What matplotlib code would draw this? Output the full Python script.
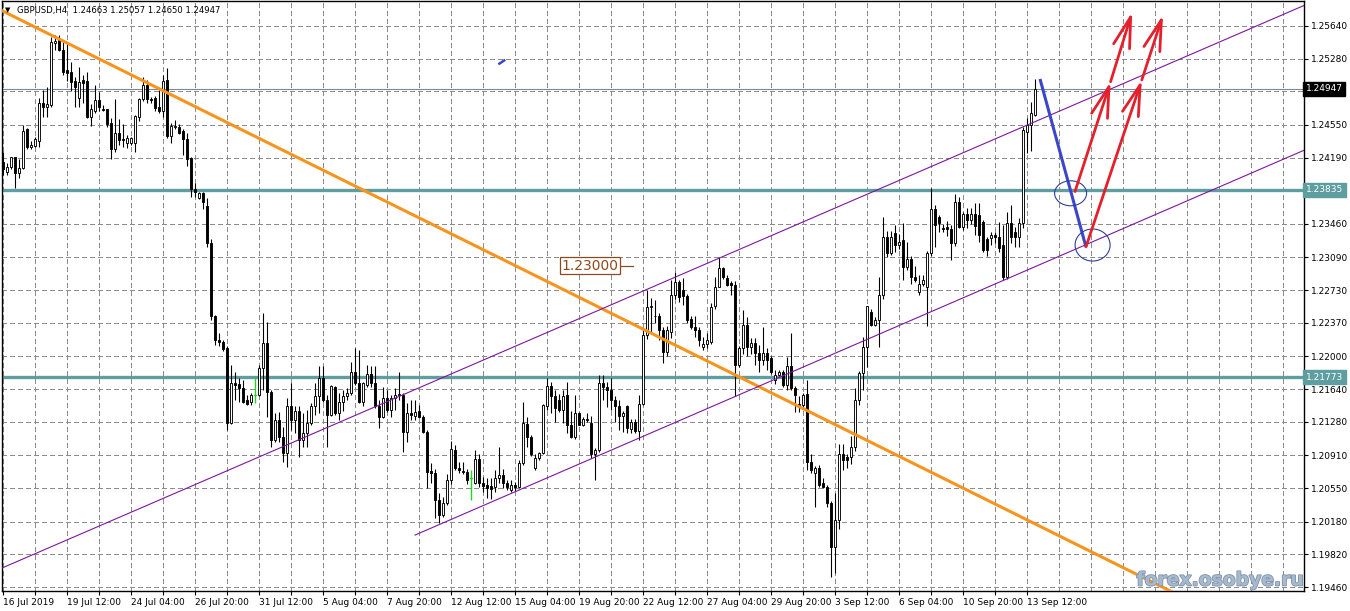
import matplotlib
matplotlib.use("Agg")
import matplotlib.pyplot as plt
import numpy as np
from matplotlib.patches import Rectangle, Ellipse
from matplotlib.collections import LineCollection
import matplotlib.patheffects as pe
import matplotlib.transforms as mtransforms

# ---------------- data (GBPUSD H4, 16 Jul 2019 20:00 .. 13 Sep 2019 20:00) ----------------
header_text = "GBPUSD,H4  1.24663 1.25057 1.24650 1.24947"

opens = [
    1.2414, 1.2403, 1.2409, 1.2420, 1.2402, 1.2408, 1.2450, 1.2431, 1.2432, 1.2437,
    1.2479, 1.2475, 1.2477, 1.2545, 1.2548, 1.2538, 1.2515, 1.2513, 1.2503, 1.2485,
    1.2504, 1.2503, 1.2464, 1.2470, 1.2482, 1.2473, 1.2472, 1.2457, 1.2429, 1.2446,
    1.2440, 1.2435, 1.2435, 1.2435, 1.2464, 1.2484, 1.2499, 1.2484, 1.2485, 1.2475,
    1.2470, 1.2504, 1.2443, 1.2453, 1.2453, 1.2448, 1.2440, 1.2419, 1.2384, 1.2375,
    1.2380, 1.2366, 1.2325, 1.2244, 1.2218, 1.2216, 1.2209, 1.2127, 1.2171, 1.2170,
    1.2165, 1.2152, 1.2150, 1.2158, 1.2158, 1.2187, 1.2215, 1.2161, 1.2108, 1.2130,
    1.2111, 1.2094, 1.2145, 1.2130, 1.2140, 1.2108, 1.2116, 1.2127, 1.2145, 1.2156,
    1.2176, 1.2152, 1.2136, 1.2166, 1.2138, 1.2150, 1.2156, 1.2160, 1.2183, 1.2171,
    1.2150, 1.2168, 1.2181, 1.2171, 1.2145, 1.2133, 1.2154, 1.2141, 1.2154, 1.2158,
    1.2158, 1.2117, 1.2138, 1.2134, 1.2140, 1.2133, 1.2117, 1.2074, 1.2072, 1.2042,
    1.2025, 1.2039, 1.2064, 1.2097, 1.2077, 1.2074, 1.2073, 1.2066, 1.2061, 1.2087,
    1.2061, 1.2058, 1.2057, 1.2056, 1.2066, 1.2069, 1.2061, 1.2053, 1.2058, 1.2056,
    1.2083, 1.2126, 1.2111, 1.2077, 1.2088, 1.2094, 1.2145, 1.2167, 1.2156, 1.2152,
    1.2141, 1.2158, 1.2125, 1.2111, 1.2138, 1.2125, 1.2131, 1.2127, 1.2092, 1.2097,
    1.2171, 1.2166, 1.2163, 1.2152, 1.2145, 1.2134, 1.2145, 1.2120, 1.2128, 1.2118,
    1.2148, 1.2224, 1.2254, 1.2245, 1.2245, 1.2229, 1.2205, 1.2227, 1.2268, 1.2282,
    1.2273, 1.2266, 1.2241, 1.2232, 1.2229, 1.2210, 1.2214, 1.2216, 1.2255, 1.2277,
    1.2297, 1.2286, 1.2281, 1.2279, 1.2191, 1.2209, 1.2235, 1.2210, 1.2215, 1.2204,
    1.2196, 1.2204, 1.2198, 1.2174, 1.2180, 1.2183, 1.2169, 1.2189, 1.2165, 1.2148,
    1.2146, 1.2159, 1.2084, 1.2072, 1.2077, 1.2061, 1.2056, 1.2039, 1.1990, 1.2020,
    1.2092, 1.2089, 1.2089, 1.2100, 1.2152, 1.2182, 1.2210, 1.2249, 1.2235, 1.2240,
    1.2268, 1.2331, 1.2314, 1.2336, 1.2323, 1.2328, 1.2298, 1.2307, 1.2288, 1.2271,
    1.2280, 1.2277, 1.2314, 1.2362, 1.2354, 1.2341, 1.2343, 1.2340, 1.2325, 1.2370,
    1.2343, 1.2357, 1.2350, 1.2357, 1.2356, 1.2348, 1.2329, 1.2330, 1.2334, 1.2332,
    1.2323, 1.2288, 1.2347, 1.2337, 1.2331, 1.2347, 1.2447, 1.2455, 1.24663,
]
highs = [
    1.2425, 1.2413, 1.2420, 1.2420, 1.2417, 1.2455, 1.2452, 1.2437, 1.2442, 1.2485,
    1.2494, 1.2497, 1.2552, 1.2554, 1.2554, 1.2546, 1.2545, 1.2524, 1.2508, 1.2519,
    1.2510, 1.2513, 1.2478, 1.2499, 1.2491, 1.2477, 1.2472, 1.2463, 1.2483, 1.2461,
    1.2456, 1.2444, 1.2442, 1.2466, 1.2485, 1.2508, 1.2505, 1.2486, 1.2487, 1.2493,
    1.2510, 1.2518, 1.2457, 1.2460, 1.2456, 1.2450, 1.2446, 1.2420, 1.2391, 1.2381,
    1.2381, 1.2375, 1.2329, 1.2246, 1.2226, 1.2218, 1.2211, 1.2191, 1.2183, 1.2176,
    1.2174, 1.2158, 1.2160, 1.2176, 1.2190, 1.2248, 1.2238, 1.2163, 1.2138, 1.2139,
    1.2122, 1.2154, 1.2171, 1.2145, 1.2145, 1.2138, 1.2141, 1.2149, 1.2171, 1.2189,
    1.2189, 1.2157, 1.2169, 1.2167, 1.2160, 1.2163, 1.2165, 1.2194, 1.2209, 1.2207,
    1.2172, 1.2191, 1.2189, 1.2189, 1.2152, 1.2166, 1.2163, 1.2158, 1.2165, 1.2183,
    1.2160, 1.2149, 1.2152, 1.2152, 1.2147, 1.2136, 1.2119, 1.2083, 1.2076, 1.2049,
    1.2045, 1.2070, 1.2107, 1.2102, 1.2084, 1.2084, 1.2076, 1.2075, 1.2097, 1.2092,
    1.2067, 1.2066, 1.2066, 1.2075, 1.2100, 1.2076, 1.2064, 1.2064, 1.2062, 1.2086,
    1.2150, 1.2133, 1.2113, 1.2093, 1.2095, 1.2148, 1.2176, 1.2172, 1.2163, 1.2159,
    1.2163, 1.2172, 1.2140, 1.2158, 1.2139, 1.2133, 1.2138, 1.2134, 1.2099, 1.2179,
    1.2180, 1.2172, 1.2176, 1.2156, 1.2152, 1.2140, 1.2147, 1.2131, 1.2131, 1.2158,
    1.2229, 1.2273, 1.2264, 1.2262, 1.2248, 1.2232, 1.2233, 1.2284, 1.2293, 1.2284,
    1.2286, 1.2269, 1.2244, 1.2244, 1.2232, 1.2221, 1.2226, 1.2259, 1.2288, 1.2309,
    1.2299, 1.2290, 1.2283, 1.2283, 1.2212, 1.2251, 1.2243, 1.2220, 1.2220, 1.2213,
    1.2232, 1.2209, 1.2200, 1.2185, 1.2185, 1.2185, 1.2199, 1.2226, 1.2167, 1.2156,
    1.2160, 1.2174, 1.2093, 1.2079, 1.2080, 1.2066, 1.2058, 1.2041, 1.2050, 1.2103,
    1.2103, 1.2093, 1.2112, 1.2165, 1.2184, 1.2221, 1.2256, 1.2252, 1.2243, 1.2288,
    1.2354, 1.2338, 1.2338, 1.2345, 1.2335, 1.2347, 1.2326, 1.2311, 1.2300, 1.2290,
    1.2290, 1.2316, 1.2386, 1.2367, 1.2356, 1.2346, 1.2349, 1.2345, 1.2379, 1.2376,
    1.2359, 1.2364, 1.2364, 1.2369, 1.2369, 1.2350, 1.2331, 1.2337, 1.2337, 1.2348,
    1.2345, 1.2359, 1.2367, 1.2343, 1.2352, 1.2453, 1.2463, 1.2480, 1.25057,
]
lows = [
    1.2400, 1.2400, 1.2406, 1.2386, 1.2397, 1.2406, 1.2428, 1.2428, 1.2431, 1.2431,
    1.2464, 1.2464, 1.2475, 1.2538, 1.2536, 1.2510, 1.2503, 1.2492, 1.2475, 1.2475,
    1.2479, 1.2463, 1.2454, 1.2468, 1.2470, 1.2470, 1.2453, 1.2417, 1.2425, 1.2433,
    1.2431, 1.2430, 1.2433, 1.2425, 1.2459, 1.2481, 1.2479, 1.2479, 1.2470, 1.2468,
    1.2464, 1.2441, 1.2435, 1.2450, 1.2445, 1.2422, 1.2410, 1.2376, 1.2376, 1.2373,
    1.2362, 1.2321, 1.2240, 1.2213, 1.2211, 1.2206, 1.2119, 1.2126, 1.2152, 1.2150,
    1.2149, 1.2146, 1.2147, 1.2149, 1.2156, 1.2163, 1.2133, 1.2100, 1.2106, 1.2106,
    1.2084, 1.2078, 1.2119, 1.2116, 1.2089, 1.2100, 1.2100, 1.2125, 1.2136, 1.2138,
    1.2150, 1.2100, 1.2134, 1.2136, 1.2130, 1.2140, 1.2152, 1.2158, 1.2169, 1.2149,
    1.2145, 1.2166, 1.2166, 1.2143, 1.2121, 1.2132, 1.2139, 1.2133, 1.2141, 1.2152,
    1.2095, 1.2106, 1.2130, 1.2130, 1.2132, 1.2116, 1.2055, 1.2061, 1.2022, 1.2017,
    1.2023, 1.2036, 1.2060, 1.2075, 1.2072, 1.2071, 1.2060, 1.2042, 1.2059, 1.2056,
    1.2051, 1.2044, 1.2043, 1.2051, 1.2061, 1.2055, 1.2053, 1.2051, 1.2052, 1.2055,
    1.2080, 1.2100, 1.2090, 1.2075, 1.2086, 1.2092, 1.2141, 1.2138, 1.2128, 1.2139,
    1.2127, 1.2116, 1.2110, 1.2109, 1.2124, 1.2123, 1.2128, 1.2088, 1.2064, 1.2095,
    1.2152, 1.2144, 1.2141, 1.2128, 1.2119, 1.2117, 1.2116, 1.2116, 1.2116, 1.2108,
    1.2146, 1.2219, 1.2227, 1.2237, 1.2218, 1.2193, 1.2201, 1.2220, 1.2263, 1.2260,
    1.2257, 1.2237, 1.2230, 1.2221, 1.2212, 1.2207, 1.2209, 1.2214, 1.2252, 1.2276,
    1.2285, 1.2278, 1.2268, 1.2156, 1.2188, 1.2203, 1.2200, 1.2203, 1.2191, 1.2183,
    1.2191, 1.2185, 1.2181, 1.2170, 1.2178, 1.2166, 1.2163, 1.2163, 1.2139, 1.2139,
    1.2144, 1.2075, 1.2072, 1.2034, 1.2056, 1.2055, 1.2034, 1.1957, 1.1961, 1.2010,
    1.2075, 1.2077, 1.2082, 1.2096, 1.2147, 1.2163, 1.2188, 1.2234, 1.2233, 1.2210,
    1.2263, 1.2309, 1.2312, 1.2315, 1.2318, 1.2284, 1.2295, 1.2280, 1.2282, 1.2268,
    1.2278, 1.2233, 1.2311, 1.2320, 1.2337, 1.2337, 1.2333, 1.2306, 1.2322, 1.2341,
    1.2339, 1.2341, 1.2346, 1.2334, 1.2326, 1.2315, 1.2311, 1.2323, 1.2325, 1.2315,
    1.2284, 1.2285, 1.2325, 1.2321, 1.2321, 1.2342, 1.2424, 1.2426, 1.24650,
]
closes = [
    1.2406, 1.2409, 1.2420, 1.2402, 1.2408, 1.2448, 1.2431, 1.2433, 1.2439, 1.2479,
    1.2475, 1.2478, 1.2546, 1.2547, 1.2537, 1.2513, 1.2512, 1.2502, 1.2497, 1.2502,
    1.2501, 1.2464, 1.2472, 1.2482, 1.2475, 1.2471, 1.2456, 1.2428, 1.2446, 1.2438,
    1.2438, 1.2441, 1.2441, 1.2465, 1.2484, 1.2499, 1.2483, 1.2482, 1.2474, 1.2470,
    1.2503, 1.2443, 1.2454, 1.2454, 1.2446, 1.2439, 1.2417, 1.2384, 1.2381, 1.2380,
    1.2370, 1.2325, 1.2244, 1.2218, 1.2216, 1.2208, 1.2127, 1.2171, 1.2169, 1.2165,
    1.2150, 1.2148, 1.2158, 1.2158, 1.2187, 1.2215, 1.2161, 1.2108, 1.2130, 1.2111,
    1.2094, 1.2145, 1.2130, 1.2140, 1.2108, 1.2116, 1.2127, 1.2145, 1.2156, 1.2176,
    1.2152, 1.2136, 1.2167, 1.2138, 1.2150, 1.2156, 1.2160, 1.2183, 1.2171, 1.2150,
    1.2171, 1.2181, 1.2171, 1.2145, 1.2133, 1.2154, 1.2141, 1.2154, 1.2158, 1.2159,
    1.2117, 1.2138, 1.2136, 1.2139, 1.2133, 1.2117, 1.2073, 1.2072, 1.2042, 1.2025,
    1.2039, 1.2064, 1.2098, 1.2077, 1.2075, 1.2073, 1.2064, 1.2066, 1.2087, 1.2061,
    1.2057, 1.2055, 1.2054, 1.2066, 1.2069, 1.2061, 1.2056, 1.2058, 1.2056, 1.2083,
    1.2127, 1.2111, 1.2092, 1.2088, 1.2094, 1.2147, 1.2167, 1.2156, 1.2143, 1.2141,
    1.2156, 1.2125, 1.2111, 1.2138, 1.2125, 1.2131, 1.2130, 1.2092, 1.2097, 1.2171,
    1.2166, 1.2163, 1.2152, 1.2145, 1.2134, 1.2138, 1.2121, 1.2128, 1.2118, 1.2148,
    1.2224, 1.2254, 1.2255, 1.2244, 1.2229, 1.2205, 1.2229, 1.2268, 1.2282, 1.2265,
    1.2266, 1.2240, 1.2232, 1.2229, 1.2218, 1.2214, 1.2218, 1.2254, 1.2277, 1.2297,
    1.2287, 1.2279, 1.2279, 1.2191, 1.2209, 1.2235, 1.2210, 1.2215, 1.2204, 1.2196,
    1.2204, 1.2196, 1.2183, 1.2180, 1.2183, 1.2169, 1.2189, 1.2165, 1.2157, 1.2146,
    1.2158, 1.2084, 1.2075, 1.2077, 1.2058, 1.2056, 1.2039, 1.1990, 1.2020, 1.2092,
    1.2086, 1.2086, 1.2100, 1.2152, 1.2182, 1.2210, 1.2255, 1.2235, 1.2240, 1.2268,
    1.2331, 1.2314, 1.2331, 1.2323, 1.2326, 1.2298, 1.2307, 1.2288, 1.2284, 1.2280,
    1.2284, 1.2314, 1.2362, 1.2345, 1.2347, 1.2340, 1.2340, 1.2325, 1.2370, 1.2343,
    1.2357, 1.2350, 1.2357, 1.2344, 1.2334, 1.2317, 1.2317, 1.2334, 1.2331, 1.2319,
    1.2288, 1.2347, 1.2331, 1.2331, 1.2347, 1.2449, 1.2455, 1.2468, 1.24947,
]

x_labels = ["16 Jul 2019", "19 Jul 12:00", "24 Jul 04:00", "26 Jul 20:00", "31 Jul 12:00",
            "5 Aug 04:00", "7 Aug 20:00", "12 Aug 12:00", "15 Aug 04:00", "19 Aug 20:00",
            "22 Aug 12:00", "27 Aug 04:00", "29 Aug 20:00", "3 Sep 12:00", "6 Sep 04:00",
            "10 Sep 20:00", "13 Sep 12:00"]
price_ticks = [1.25640, 1.25280, 1.24920, 1.24550, 1.24190, 1.23830, 1.23460, 1.23090,
               1.22730, 1.22370, 1.22000, 1.21640, 1.21280, 1.20910, 1.20550, 1.20180,
               1.19820, 1.19460]
hidden_tick_labels = [1.24920, 1.23830]

bid_price = 1.24947
level_prices = [1.23835, 1.21773]
price_label_value = 1.23000
price_label_bar = 146.75

# trend lines: (bar index, price) anchor pairs
orange_line = [(0, 1.25803), (240, 1.20550)]
channel_upper = [(0, 1.19674), (325, 1.25861)]
channel_lower = [(103, 1.20032), (325, 1.24266)]

# forecast drawings
blue_path = [(259.25, 1.25056), (270.75, 1.23205)]
red_arrows = [
    [(268.0, 1.23816), (276.9, 1.25026)],
    [(276.9, 1.25026), (282.3, 1.25794)],
    [(270.75, 1.23208), (284.7, 1.25045)],
    [(284.7, 1.25045), (290.0, 1.25761)],
]
circles = [((266.9, 1.23797), 8.0, 0.00275), ((272.4, 1.23227), 8.75, 0.00353)]
small_mark = [(124.1, 1.25225), (125.3, 1.25260)]

# ---------------- figure ----------------
W, H = 1350, 611
fig = plt.figure(figsize=(W / 100, H / 100), dpi=100)
fig.patch.set_facecolor("white")
ax_l, ax_r, ax_t, ax_b = 2, 1304, 1, 591
ax = fig.add_axes([ax_l / W, 1 - ax_b / H, (ax_r - ax_l) / W, (ax_b - ax_t) / H])
ax.set_facecolor("white")
ax.set_xlim(-0.25, 325.25)
ax.set_ylim(1.19416, 1.25915)

# grid
grid_kw = dict(color="#8c8c8c", lw=0.75, ls=(0, (4, 3)), zorder=0.5, antialiased=False)
for p in price_ticks:
    ax.axhline(p, **grid_kw)
for b in range(0, 326, 8):
    ax.axvline(b, **grid_kw)

# bid line
ax.axhline(bid_price, color="#778899", lw=0.8, zorder=0.8)

# support / resistance levels
for p in level_prices:
    ax.axhline(p, color="#5f9ea0", lw=2.4, zorder=1.0)

# candles
n = len(closes)
segs_black, segs_green = [], []
for i in range(n):
    o, h, l, c = opens[i], highs[i], lows[i], closes[i]
    lo = min(l, o, c); hi = max(h, o, c)
    if abs(c - o) < 1e-7:
        segs_green.append([(i, lo), (i, hi)])
    else:
        segs_black.append([(i, lo), (i, hi)])
ax.add_collection(LineCollection(segs_black, colors="black", linewidths=0.78, zorder=2))
ax.add_collection(LineCollection(segs_green, colors="#22d622", linewidths=1.0, zorder=2))
bw = 0.6
for i in range(n):
    o, c = opens[i], closes[i]
    if abs(c - o) < 1e-7:
        ax.plot([i - bw / 2, i + bw / 2], [o, o], color="#22d622", lw=0.9, zorder=2.1)
        continue
    fc = "white" if c > o else "black"
    ax.add_patch(Rectangle((i - bw / 2, min(o, c)), bw, abs(c - o), facecolor=fc,
                           edgecolor="black", lw=0.65, zorder=2.2))

# trend lines, extended as rays
def ray(p0, p1, x_from, x_to):
    (x0, y0), (x1, y1) = p0, p1
    k = (y1 - y0) / (x1 - x0)
    return [x_from, x_to], [y0 + k * (x_from - x0), y0 + k * (x_to - x0)]

xs, ys = ray(*orange_line, -1, 330)
ax.plot(xs, ys, color="#f7941d", lw=2.2, zorder=3)
xs, ys = ray(*channel_upper, -1, 330)
ax.plot(xs, ys, color="#7d169f", lw=0.8, zorder=3)
xs, ys = ray(*channel_lower, channel_lower[0][0], 330)
ax.plot(xs, ys, color="#7d169f", lw=0.8, zorder=3)

# price label 1.23000
ax.text(price_label_bar, price_label_value, "1.23000", ha="center", va="center", fontsize=10,
        color="#8b4a1f", zorder=4,
        bbox=dict(boxstyle="square,pad=0.12", fc="white", ec="#8b4a1f", lw=0.9))
ax.plot([price_label_bar + 7.7, price_label_bar + 10.8], [price_label_value] * 2,
        color="#8b4a1f", lw=0.9, zorder=4)

# forecast drawings
ax.plot([p[0] for p in blue_path], [p[1] for p in blue_path], color="#3c46c8", lw=2.2,
        zorder=4, solid_capstyle="butt")
for start, tip in red_arrows:
    ax.annotate("", xy=tip, xytext=start,
                arrowprops=dict(arrowstyle="->,head_length=2.2,head_width=0.6", color="#e3202b",
                                lw=2.0, shrinkA=0, shrinkB=0), zorder=5)
for (cx, cy), w_, h_ in circles:
    ax.add_patch(Ellipse((cx, cy), w_, h_, fill=False, ec="#2f3f9a", lw=0.8, zorder=4))
ax.plot([p[0] for p in small_mark], [p[1] for p in small_mark], color="#3c46c8", lw=1.8, zorder=4)

# axes styling
for s in ax.spines.values():
    s.set_color("black"); s.set_linewidth(1.0)
ax.yaxis.tick_right()
ax.set_yticks(price_ticks)
ax.set_yticklabels(["" if p in hidden_tick_labels else f"{p:.5f}" for p in price_ticks])
ax.tick_params(axis="y", direction="out", length=3, width=0.8, pad=2, labelsize=6.5,
               colors="black")
xt = list(range(0, 257, 8))
ax.set_xticks(xt)
lab = []
for b in xt:
    lab.append(x_labels[b // 16] if b % 16 == 0 else "")
ax.set_xticklabels(lab)
ax.tick_params(axis="x", direction="out", length=3, width=0.8, pad=2, labelsize=6.5,
               colors="black")
for t in ax.get_xticklabels():
    t.set_ha("left")

# highlighted price labels on the axis
blend = mtransforms.blended_transform_factory(ax.transAxes, ax.transData)
ax.text(1.0015, bid_price, f"{bid_price:.5f}", transform=blend, ha="left", va="center",
        fontsize=6.5, color="white", zorder=10, clip_on=False,
        bbox=dict(boxstyle="square,pad=0.28", fc="black", ec="black"))
for p in level_prices:
    ax.text(1.0015, p, f"{p:.5f}", transform=blend, ha="left", va="center",
            fontsize=6.5, color="white", zorder=10, clip_on=False,
            bbox=dict(boxstyle="square,pad=0.28", fc="#5f9ea0", ec="#5f9ea0"))

# header
fig.text(5 / W, 1 - 10 / H, "\u25BC", fontsize=5, color="black", va="center", ha="left")
fig.text(17 / W, 1 - 10 / H, header_text, fontsize=6.1, color="black", va="center", ha="left")

# watermark
fig.text(1220 / W, 1 - 580 / H, "forex.osobye.ru", fontsize=13.5, fontweight="bold",
         family="DejaVu Sans", color="#a7b9cd", ha="center", va="center", zorder=20,
         path_effects=[pe.withStroke(linewidth=1.2, foreground="#7e94ad")])

fig.savefig("out.png", dpi=100, facecolor="white")
